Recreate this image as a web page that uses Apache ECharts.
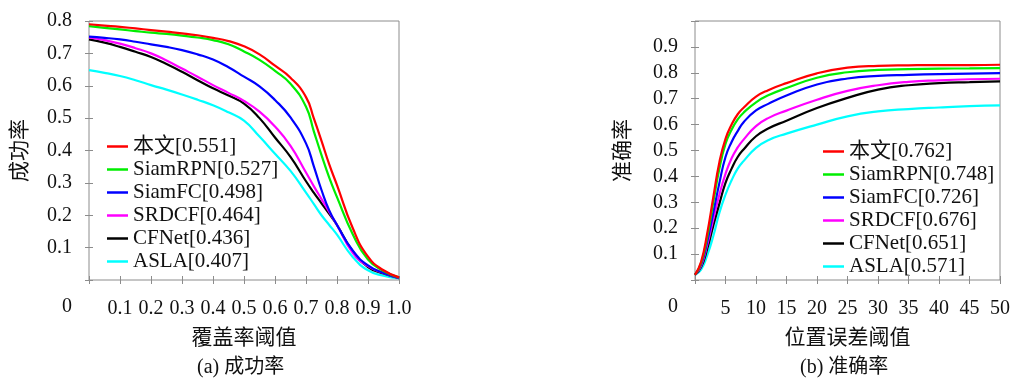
<!DOCTYPE html>
<html>
<head>
<meta charset="utf-8">
<script src="https://cdn.jsdelivr.net/npm/echarts@6/dist/echarts.min.js"></script>
<style>
html,body{margin:0;padding:0;background:#fff;}
#c{width:1013px;height:380px;}
</style>
</head>
<body>
<div id="c"></div>
<script>
// ---- data: success plot (overlap threshold) ----
const succX = [0,0.05,0.1,0.15,0.2,0.25,0.3,0.35,0.4,0.45,0.5,0.55,0.6,0.65,0.7,0.725,0.75,0.775,0.8,0.85,0.9,0.95,1.0];
const succOurs    = [0.790,0.786,0.782,0.777,0.772,0.767,0.762,0.756,0.748,0.738,0.722,0.697,0.662,0.625,0.565,0.500,0.430,0.357,0.293,0.162,0.072,0.030,0.008];
const succSiamRPN = [0.784,0.779,0.774,0.769,0.764,0.760,0.755,0.749,0.741,0.728,0.706,0.680,0.646,0.606,0.535,0.460,0.386,0.316,0.256,0.143,0.063,0.028,0.008];
const succSiamFC  = [0.752,0.748,0.743,0.736,0.728,0.720,0.710,0.697,0.681,0.657,0.628,0.598,0.556,0.502,0.422,0.352,0.278,0.215,0.170,0.092,0.045,0.022,0.007];
const succSRDCF   = [0.749,0.741,0.730,0.716,0.700,0.678,0.653,0.628,0.602,0.578,0.553,0.520,0.474,0.414,0.332,0.290,0.250,0.210,0.170,0.085,0.043,0.022,0.006];
const succCFNet   = [0.743,0.733,0.720,0.705,0.689,0.667,0.643,0.617,0.592,0.570,0.545,0.500,0.440,0.380,0.305,0.270,0.237,0.204,0.170,0.090,0.040,0.020,0.006];
const succASLA    = [0.648,0.640,0.630,0.617,0.602,0.588,0.573,0.557,0.540,0.518,0.492,0.443,0.390,0.337,0.270,0.235,0.200,0.170,0.140,0.072,0.030,0.013,0.005];
const succNames = ['本文[0.551]','SiamRPN[0.527]','SiamFC[0.498]','SRDCF[0.464]','CFNet[0.436]','ASLA[0.407]'];

// ---- data: precision plot (location error threshold) ----
const precX = [0,1,2,3,4,5,6,7,8,10,12,15,20,25,30,35,40,45,50];
const precOurs    = [0.020,0.070,0.180,0.320,0.455,0.545,0.600,0.640,0.666,0.708,0.733,0.760,0.798,0.820,0.827,0.829,0.830,0.830,0.831];
const precSiamRPN = [0.020,0.065,0.165,0.300,0.430,0.525,0.580,0.620,0.647,0.686,0.713,0.741,0.781,0.802,0.811,0.814,0.816,0.817,0.818];
const precSiamFC  = [0.020,0.060,0.148,0.260,0.375,0.475,0.533,0.575,0.610,0.655,0.680,0.712,0.755,0.778,0.788,0.792,0.795,0.797,0.799];
const precSRDCF   = [0.020,0.055,0.135,0.235,0.330,0.410,0.470,0.512,0.543,0.594,0.625,0.654,0.696,0.730,0.752,0.765,0.771,0.775,0.777];
const precCFNet   = [0.020,0.050,0.120,0.210,0.295,0.375,0.430,0.475,0.505,0.555,0.585,0.615,0.664,0.703,0.735,0.752,0.760,0.764,0.767];
const precASLA    = [0.020,0.040,0.095,0.170,0.260,0.330,0.385,0.430,0.460,0.510,0.540,0.565,0.600,0.632,0.651,0.660,0.666,0.671,0.674];
const precNames = ['本文[0.762]','SiamRPN[0.748]','SiamFC[0.726]','SRDCF[0.676]','CFNet[0.651]','ASLA[0.571]'];

// ---- styling ----
const FONT = "'Liberation Serif','Noto Sans CJK SC',serif";
const COLORS = ['#ff0000','#00ee00','#0000ff','#ff00ff','#000000','#00ffff'];
const FRAME = '#8c8c8c';

const succSets = [succOurs,succSiamRPN,succSiamFC,succSRDCF,succCFNet,succASLA];
const precSets = [precOurs,precSiamRPN,precSiamFC,precSRDCF,precCFNet,precASLA];

function pairs(xs, ys){ return xs.map((x,i)=>[x,ys[i]]); }

function mkX(grid, min, max, interval, fmt, pos, labels, name){
  return {
    type:'value', gridIndex:grid, min:min, max:max, interval:interval, position:pos,
    axisLine:{show:false},
    axisTick:{show:true, inside:true, length:4, lineStyle:{color:FRAME}},
    splitLine:{show:false},
    axisLabel:{show:labels, formatter:fmt, fontFamily:FONT, fontSize:20, color:'#111', margin:19},
    name: name||'', nameLocation:'middle', nameGap:48,
    nameTextStyle:{fontFamily:FONT, fontSize:21, color:'#111'}
  };
}
function mkY(grid, min, max, interval, fmt, pos, labels, name, gap){
  return {
    type:'value', gridIndex:grid, min:min, max:max, interval:interval, position:pos,
    axisLine:{show:false},
    axisTick:{show:true, inside:true, length:4, lineStyle:{color:FRAME}},
    splitLine:{show:false},
    axisLabel:{show:labels, formatter:fmt, fontFamily:FONT, fontSize:20, color:'#111', margin:17},
    name: name||'', nameLocation:'middle', nameGap:gap||0, nameRotate:90,
    nameTextStyle:{fontFamily:FONT, fontSize:21, color:'#111'}
  };
}
const fmt1 = v => (v <= 0 ? '' : v.toFixed(1));
const fmtY2 = v => (v <= 0 || v >= 1 ? '' : v.toFixed(1));
const fmtInt = v => (v <= 0 ? '' : String(Math.round(v)));

const series = [];
succSets.forEach((d,i)=>series.push({
  name:succNames[i], type:'line', xAxisIndex:0, yAxisIndex:0,
  data:pairs(succX,d), showSymbol:false, symbol:'none', smooth:true,
  lineStyle:{width:2.2, color:COLORS[i]}, itemStyle:{color:COLORS[i]}, z:10-i, animation:false
}));
precSets.forEach((d,i)=>series.push({
  name:precNames[i], type:'line', xAxisIndex:2, yAxisIndex:2,
  data:pairs(precX,d), showSymbol:false, symbol:'none', smooth:true,
  lineStyle:{width:2.2, color:COLORS[i]}, itemStyle:{color:COLORS[i]}, z:10-i, animation:false
}));

const legendBase = {
  orient:'vertical', icon:'rect', itemWidth:21, itemHeight:2.5, itemGap:0,
  selectedMode:false,
  textStyle:{fontFamily:FONT, fontSize:21, color:'#111', lineHeight:23}
};

const option = {
  animation:false,
  backgroundColor:'#fff',
  grid:[
    {left:89, top:21, width:310, height:259, show:true, borderColor:FRAME, borderWidth:1, backgroundColor:'transparent'},
    {left:695, top:21, width:310, height:259, show:true, borderColor:FRAME, borderWidth:1, backgroundColor:'transparent'}
  ],
  xAxis:[
    mkX(0, 0, 1, 0.1, fmt1, 'bottom', true, '覆盖率阈值'),
    mkX(0, 0, 1, 0.1, fmt1, 'top', false),
    mkX(1, 0, 50, 5, fmtInt, 'bottom', true, '位置误差阈值'),
    mkX(1, 0, 50, 5, fmtInt, 'top', false)
  ],
  yAxis:[
    mkY(0, 0, 0.8, 0.1, fmt1, 'left', true, '成功率', 58),
    mkY(0, 0, 0.8, 0.1, fmt1, 'right', false),
    mkY(1, 0, 1.0, 0.1, fmtY2, 'left', true, '准确率', 61),
    mkY(1, 0, 1.0, 0.1, fmtY2, 'right', false)
  ],
  legend:[
    Object.assign({}, legendBase, {data:succNames, left:102, top:130}),
    Object.assign({}, legendBase, {data:precNames, left:818, top:135})
  ],
  graphic:[
    {type:'text', left:62, top:297, style:{text:'0', font:'20px '+FONT, fill:'#111'}},
    {type:'text', left:668, top:297, style:{text:'0', font:'20px '+FONT, fill:'#111'}},
    {type:'text', left:197, top:358, style:{text:'(a) 成功率', font:'20px '+FONT, fill:'#111'}},
    {type:'text', left:800, top:358, style:{text:'(b) 准确率', font:'20px '+FONT, fill:'#111'}}
  ],
  series:series
};

const chart = echarts.init(document.getElementById('c'), null, {renderer:'canvas'});
chart.setOption(option);
</script>
</body>
</html>
